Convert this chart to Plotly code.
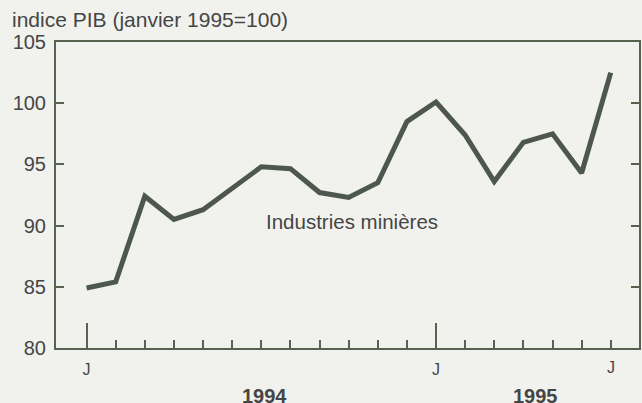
import plotly.graph_objects as go

months = ["J94", "F94", "M94", "A94", "M94b", "J94b", "J94c", "A94b", "S94", "O94", "N94", "D94",
          "J95", "F95", "M95", "A95", "M95b", "J95b", "J95c"]
values = [84.9, 85.4, 92.4, 90.5, 91.3, 93.1, 94.8, 94.65, 92.7, 92.3, 93.5, 98.5,
          100.1, 97.4, 93.6, 96.8, 97.5, 94.3, 102.5]
x_idx = list(range(len(values)))
major_ticks = [0, 12]
major_labels = ["J", "J"]
extra_label_pos = 18
extra_label = "J"
years = ["1994", "1995"]
year_pos = [6.1, 15.4]
y_ticks = [80, 85, 90, 95, 100, 105]

bg = "#f1f2ee"
axis_col = "#56634f"
line_col = "#4e574c"
text_col = "#454545"
font_fam = "Liberation Sans, Arial, sans-serif"

fig = go.Figure()
fig.add_trace(go.Scatter(x=x_idx, y=values, mode="lines",
                         line=dict(color=line_col, width=5), showlegend=False,
                         hoverinfo="skip"))

fig.update_layout(
    width=642, height=403,
    margin=dict(l=56, r=1, t=42, b=55),
    paper_bgcolor=bg, plot_bgcolor=bg,
    font=dict(family=font_fam, size=20, color=text_col),
    xaxis=dict(range=[-1.05, 18.97], tickmode="array", tickvals=major_ticks,
               ticktext=major_labels, ticks="inside", ticklen=25, tickwidth=2,
               tickcolor=axis_col, showline=True, linecolor=axis_col, linewidth=2,
               mirror=True, showgrid=False, zeroline=False, ticklabelstandoff=6,
               tickfont=dict(size=16),
               minor=dict(tickmode="array", tickvals=x_idx, ticks="inside", ticklen=8,
                          tickwidth=2, tickcolor=axis_col, showgrid=False)),
    yaxis=dict(range=[80, 105], tickmode="array", tickvals=y_ticks,
               ticks="inside", ticklen=8, tickwidth=2, tickcolor=axis_col,
               showline=True, linecolor=axis_col, linewidth=2, mirror="ticks",
               showgrid=False, zeroline=False, ticklabelstandoff=4,
               tickfont=dict(size=20)),
)

fig.add_annotation(x=extra_label_pos, y=-0.065, xref="x", yref="paper", text=extra_label,
                   showarrow=False, yanchor="middle", font=dict(size=16))
for yr, pos in zip(years, year_pos):
    fig.add_annotation(x=pos, y=-0.114, xref="x", yref="paper", text="<b>" + yr + "</b>",
                       showarrow=False, yanchor="top", font=dict(size=20))
fig.add_annotation(x=9.1, y=90.35, xref="x", yref="y", text="Industries minières",
                   showarrow=False, font=dict(size=20.5))
fig.add_annotation(x=-0.0786, y=1.072, xref="paper", yref="paper",
                   text="indice PIB (janvier 1995=100)", showarrow=False,
                   xanchor="left", yanchor="middle", font=dict(size=21))

fig.write_html("out.html", config={"displayModeBar": False},
               post_script="document.body.style.margin='0';")
